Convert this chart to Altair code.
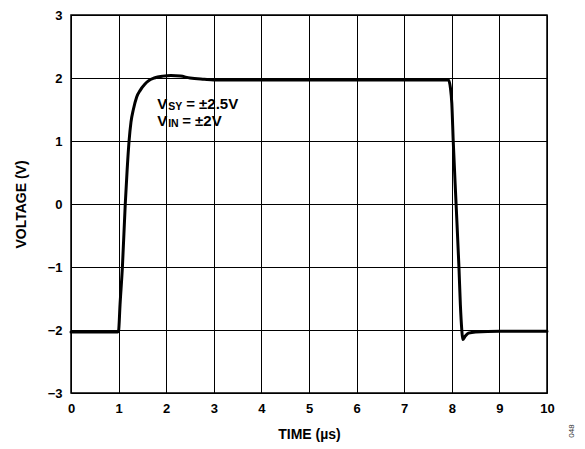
import altair as alt
import pandas as pd

# Waveform (time in µs, voltage in V)
time_us = [0.0, 0.5, 0.98, 1.0, 1.03, 1.08, 1.14, 1.18, 1.22, 1.26, 1.31, 1.38, 1.45, 1.55,
           1.62, 1.75, 1.93, 2.1, 2.3, 2.5, 2.8, 3.0, 4.0, 5.0, 6.0, 7.0, 7.93, 7.97, 8.0,
           8.03, 8.09, 8.15, 8.18, 8.21, 8.23, 8.28, 8.35, 8.5, 9.0, 10.0]
voltage_v = [-2.03, -2.03, -2.03, -2.01, -1.6, -1.0, 0.0, 0.55, 1.0, 1.3, 1.5, 1.7, 1.8, 1.9,
             1.95, 2.0, 2.03, 2.04, 2.03, 2.0, 1.98, 1.97, 1.97, 1.97, 1.97, 1.97, 1.97, 1.85,
             1.6, 1.0, 0.0, -1.0, -1.6, -2.0, -2.15, -2.1, -2.05, -2.03, -2.02, -2.02]

x_ticks = list(range(0, 11))
y_ticks = list(range(-3, 4))

ann_x = [1.81, 1.81]
ann_y = [1.515, 1.24]
ann_main = ["V", "V"]
ann_sub = ["SY", "IN"]
ann_rest = ["= ±2.5V", "= ±2V"]

fig_id = ["048"]

FONT = "Liberation Sans"

df = pd.DataFrame({"t": time_us, "v": voltage_v})
ann = pd.DataFrame({"t": ann_x, "v": ann_y, "main": ann_main, "sub": ann_sub, "rest": ann_rest})
ann1 = ann.iloc[[0]]
ann2 = ann.iloc[[1]]
ids = pd.DataFrame({"id": fig_id})

xscale = alt.Scale(domain=[0, 10], nice=False, zero=False)
yscale = alt.Scale(domain=[-3, 3], nice=False, zero=False)

x_axis = alt.Axis(values=x_ticks, title="TIME (µs)", format="d", grid=True,
                  labelFlush=False, ticks=False, domain=False, labelPadding=9,
                  titleX=238, titleY=45, titleBaseline="alphabetic", titleAlign="center")
y_axis = alt.Axis(values=y_ticks, title="VOLTAGE (V)", format="d", grid=True,
                  labelFlush=False, ticks=False, domain=False, labelPadding=9,
                  titleX=-46, titleY=189, titleAngle=270, titleBaseline="alphabetic",
                  titleAlign="center")

line = alt.Chart(df).mark_line(color="black", strokeWidth=3, strokeJoin="round",
                               strokeCap="round", interpolate="monotone").encode(
    x=alt.X("t:Q", scale=xscale, axis=x_axis),
    y=alt.Y("v:Q", scale=yscale, axis=y_axis),
)

main_txt = alt.Chart(ann).mark_text(font=FONT, fontWeight="bold", fontSize=15, align="left",
                                    baseline="alphabetic", color="black").encode(
    x="t:Q", y="v:Q", text="main:N")
sub_txt = alt.Chart(ann).mark_text(font=FONT, fontWeight="bold", fontSize=10.5, align="left",
                                   baseline="alphabetic", color="black", dx=11, dy=1).encode(
    x="t:Q", y="v:Q", text="sub:N")
rest1 = alt.Chart(ann1).mark_text(font=FONT, fontWeight="bold", fontSize=15, align="left",
                                  baseline="alphabetic", color="black", dx=29).encode(
    x="t:Q", y="v:Q", text="rest:N")
rest2 = alt.Chart(ann2).mark_text(font=FONT, fontWeight="bold", fontSize=15, align="left",
                                  baseline="alphabetic", color="black", dx=25).encode(
    x="t:Q", y="v:Q", text="rest:N")

id_txt = alt.Chart(ids).mark_text(font=FONT, fontSize=8, angle=270, align="center",
                                  baseline="middle", color="#333333").encode(
    x=alt.value(501), y=alt.value(416), text="id:N")

chart = alt.layer(line, main_txt, sub_txt, rest1, rest2, id_txt).properties(
    width=476, height=378,
    background="white",
    autosize=alt.AutoSizeParams(type="none"),
    padding={"left": 63, "top": 7, "right": 30, "bottom": 49},
).configure_view(
    stroke="black", strokeWidth=1.5
).configure_axis(
    gridColor="black", gridWidth=1, gridOpacity=1,
    labelFont=FONT, labelFontWeight="bold", labelFontSize=13, labelColor="black",
    titleFont=FONT, titleFontWeight="bold", titleFontSize=14, titleColor="black",
)

chart.save("out.html", embed_options={"renderer": "svg", "actions": False})
